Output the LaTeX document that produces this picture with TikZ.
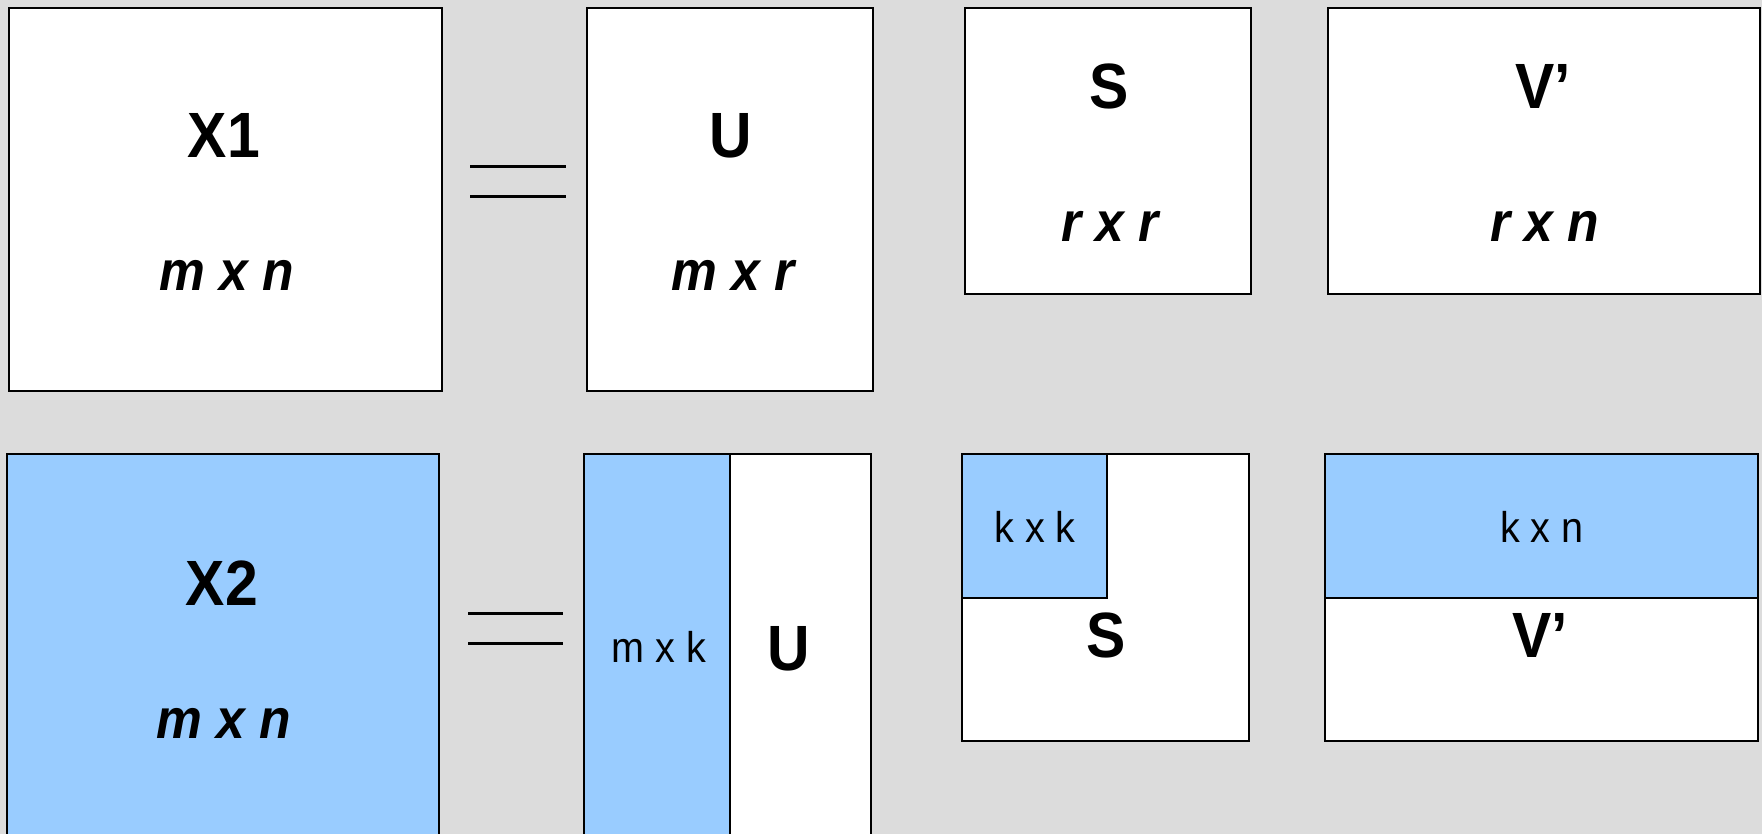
\documentclass[tikz,border=0pt]{standalone}
\usepackage{fontspec}
\usepackage{graphicx}
\setmainfont{Liberation Sans}
\definecolor{bgc}{HTML}{DCDCDC}
\definecolor{lblue}{HTML}{99CCFF}
\newcommand{\narrowtxt}[1]{\scalebox{0.92}[1]{#1}}
\begin{document}
\begin{tikzpicture}[x=1pt,y=-1pt,
  box/.style={draw=black, line width=2pt, fill=white, inner sep=0pt, outer sep=0pt, anchor=north west, rectangle},
  bluebox/.style={box, fill=lblue},
  ttl/.style={inner sep=0pt, anchor=base, font=\fontsize{64}{64}\selectfont\bfseries},
  dimit/.style={inner sep=0pt, anchor=base, font=\fontsize{56}{56}\selectfont\bfseries\itshape},
  dimrg/.style={inner sep=0pt, anchor=base, font=\fontsize{43}{43}\selectfont},
  eqline/.style={line width=3pt}]
\fill[bgc] (0,0) rectangle (1762,834);
\useasboundingbox (0,0) rectangle (1762,834);
\clip (0,0) rectangle (1762,834);
% top row
\node[box, minimum width=433pt, minimum height=383pt] (X1) at (9,8) {};
\node[box, minimum width=286pt, minimum height=383pt] (U1) at (587,8) {};
\node[box, minimum width=286pt, minimum height=286pt] (S1) at (965,8) {};
\node[box, minimum width=432pt, minimum height=286pt] (V1) at (1328,8) {};
\node[ttl] (tX1) at (224,158) {\narrowtxt{X1}};
\node[dimit] (dX1) at (227,291) {\narrowtxt{m x n}};
\node[ttl] (tU1) at (731,158) {\narrowtxt{U}};
\node[dimit] (dU1) at (733,291) {\narrowtxt{m x r}};
\node[ttl] (tS1) at (1109,109) {\narrowtxt{S}};
\node[dimit] (dS1) at (1110,242) {\narrowtxt{r x r}};
\node[ttl] (tV1) at (1543,109) {\narrowtxt{V’}};
\node[dimit] (dV1) at (1545,242) {\narrowtxt{r x n}};
\coordinate (e1a) at (470,167); \coordinate (e1b) at (566,167);
\coordinate (e1c) at (470,197); \coordinate (e1d) at (566,197);
\draw[eqline] (e1a) -- (e1b);
\draw[eqline] (e1c) -- (e1d);
% bottom row
\node[bluebox, minimum width=432pt, minimum height=420pt] (X2) at (7,454) {};
\node[box, minimum width=287pt, minimum height=420pt] (U2) at (584,454) {};
\node[bluebox, minimum width=146pt, minimum height=420pt] (U2b) at (584,454) {};
\node[box, minimum width=287pt, minimum height=287pt] (S2) at (962,454) {};
\node[bluebox, minimum width=145pt, minimum height=144pt] (S2b) at (962,454) {};
\node[box, minimum width=433pt, minimum height=287pt] (V2) at (1325,454) {};
\node[bluebox, minimum width=433pt, minimum height=144pt] (V2b) at (1325,454) {};
\node[ttl] (tX2) at (222,605) {\narrowtxt{X2}};
\node[dimit] (dX2) at (224,738) {\narrowtxt{m x n}};
\node[dimrg] (dU2) at (659,662) {\narrowtxt{m x k}};
\node[ttl] (tU2) at (789,670) {\narrowtxt{U}};
\node[dimrg] (dS2) at (1035,542) {\narrowtxt{k x k}};
\node[ttl] (tS2) at (1106,657) {\narrowtxt{S}};
\node[dimrg] (dV2) at (1542,542) {\narrowtxt{k x n}};
\node[ttl] (tV2) at (1540,657) {\narrowtxt{V’}};
\coordinate (e2a) at (468,613); \coordinate (e2b) at (563,613);
\coordinate (e2c) at (468,643); \coordinate (e2d) at (563,643);
\draw[eqline] (e2a) -- (e2b);
\draw[eqline] (e2c) -- (e2d);
\end{tikzpicture}
\end{document}
